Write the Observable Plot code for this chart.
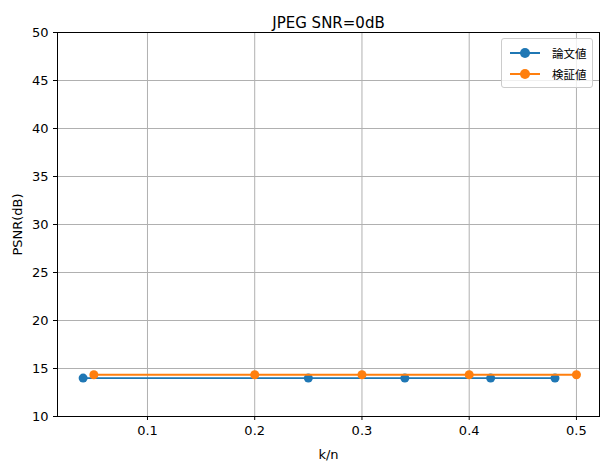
<!DOCTYPE html>
<html>
<head>
<meta charset="utf-8">
<script src="https://cdn.jsdelivr.net/npm/d3@7"></script>
<script src="https://cdn.jsdelivr.net/npm/@observablehq/plot@0.6"></script>
<style>
  body { margin: 0; background: #fff; font-family: "DejaVu Sans", "Noto Sans CJK JP", sans-serif; }
  #wrap { position: relative; width: 609px; height: 470px; }
  #legend { position: absolute; left: 501px; top: 38px; width: 90px; border: 1px solid #ccc; border-radius: 3px;
    background: rgba(255,255,255,0.8); font-size: 11.5px; padding: 3px 0; }
  .row { display: flex; align-items: center; height: 21px; }
  .sw { position: relative; width: 30px; margin-left: 8px; margin-right: 12px; height: 10px; }
  .sw .ln { position: absolute; left: 0; right: 0; top: 4px; height: 2px; }
  .sw .dt { position: absolute; left: 10px; top: 0; width: 10px; height: 10px; border-radius: 50%; }
</style>
</head>
<body>
<div id="wrap">
  <div id="chart"></div>
  <div id="legend"></div>
</div>
<script>
const paperK = [0.04, 0.25, 0.34, 0.42, 0.48];
const paperPSNR = [14.0, 14.0, 14.0, 14.0, 14.0];
const testK = [0.05, 0.2, 0.3, 0.4, 0.5];
const testPSNR = [14.35, 14.35, 14.35, 14.35, 14.35];
const seriesNames = ["論文値", "検証値"];
const colors = ["#1f77b4", "#ff7f0e"];

const paper = paperK.map((k, i) => ({k, v: paperPSNR[i]}));
const test = testK.map((k, i) => ({k, v: testPSNR[i]}));

const plot = Plot.plot({
  width: 609,
  height: 470,
  marginLeft: 57,
  marginRight: 10,
  marginTop: 32,
  marginBottom: 54,
  style: {fontFamily: "DejaVu Sans, Noto Sans CJK JP, sans-serif", fontSize: "13px", color: "#000"},
  x: {domain: [0.0161, 0.5215], ticks: [0.1, 0.2, 0.3, 0.4, 0.5], tickFormat: d3.format(".1f"),
      label: "k/n", labelAnchor: "center", labelArrow: "none", labelOffset: 42, tickSize: 4},
  y: {domain: [10, 50], ticks: d3.range(10, 51, 5), label: "PSNR(dB)", labelAnchor: "center",
      labelArrow: "none", labelOffset: 45, tickSize: 4},
  marks: [
    Plot.gridX([0.1, 0.2, 0.3, 0.4, 0.5], {stroke: "#b0b0b0", strokeOpacity: 1}),
    Plot.gridY(d3.range(15, 50, 5), {stroke: "#b0b0b0", strokeOpacity: 1}),
    Plot.line(paper, {x: "k", y: "v", stroke: colors[0], strokeWidth: 1.8}),
    Plot.dot(paper, {x: "k", y: "v", fill: colors[0], r: 4.5}),
    Plot.line(test, {x: "k", y: "v", stroke: colors[1], strokeWidth: 1.8}),
    Plot.dot(test, {x: "k", y: "v", fill: colors[1], r: 4.5}),
    Plot.frame({stroke: "#000"}),
    Plot.text(["JPEG SNR=0dB"], {frameAnchor: "top", dy: -15, fontSize: 15})
  ]
});
document.getElementById("chart").append(plot);

const legend = d3.select("#legend");
seriesNames.forEach((n, i) => {
  const row = legend.append("div").attr("class", "row");
  const sw = row.append("div").attr("class", "sw");
  sw.append("div").attr("class", "ln").style("background", colors[i]);
  sw.append("div").attr("class", "dt").style("background", colors[i]);
  row.append("span").text(n);
});
</script>
</body>
</html>
